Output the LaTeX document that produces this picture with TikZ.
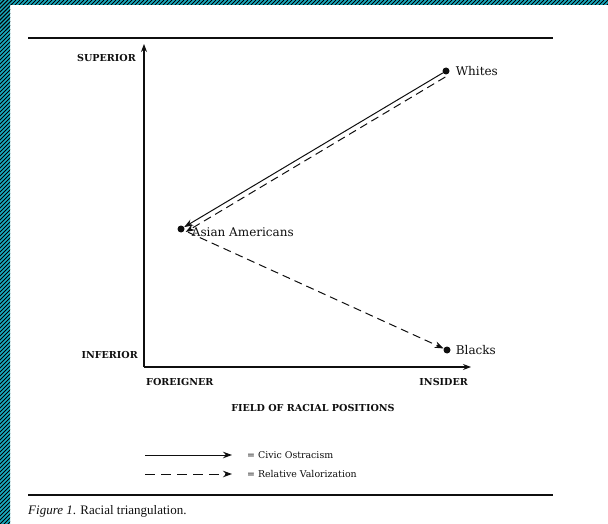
\documentclass[tikz,border=0pt]{standalone}
\usepackage{fontspec}
\setmainfont{Liberation Serif}
\newfontfamily\labelfont{DejaVu Serif}
\usepackage{tikz}
\usetikzlibrary{arrows.meta,patterns,positioning,calc}
\usepackage{xcolor}
\definecolor{hatchteal}{RGB}{25,170,190}
\definecolor{inkgrey}{RGB}{15,15,15}

\begin{document}
\begin{tikzpicture}[x=1pt, y=-1pt,
    every node/.style={text=inkgrey},
    axis/.style={inkgrey, line width=1.1pt, -{Stealth[length=8pt,width=6pt]}},
    civic/.style={inkgrey, line width=1pt, -{Stealth[length=9pt,width=6.5pt]}},
    valor/.style={inkgrey, line width=1pt, dash pattern=on 8pt off 5pt, -{Stealth[length=9pt,width=6.5pt]}},
    dot/.style={circle, fill=inkgrey, inner sep=0pt, minimum size=7pt},
    grouplbl/.style={font=\labelfont\fontsize{12}{14}\selectfont, inner sep=0pt},
    axislbl/.style={font=\labelfont\bfseries\fontsize{9.6}{11}\selectfont, inner sep=0pt},
    legendlbl/.style={font=\labelfont\fontsize{9.4}{11}\selectfont, inner sep=0pt, anchor=west}]
        \useasboundingbox (0,0) rectangle (608,524);
        \fill[white] (0,0) rectangle (608,524);

        % Hatched border (left and top)
        \begin{scope}
          \clip (0,0) rectangle (10,524) (0,0) rectangle (608,5);
          \fill[hatchteal] (0,0) rectangle (608,524);
          \foreach \s in {0,4,...,620}{
            \draw[black, line width=0.9pt] (\s,0) -- (\s-30,30);
          }
          \foreach \s in {0,4,...,540}{
            \draw[black, line width=0.9pt] (12,\s-12) -- (-12,\s+12);
          }
        \end{scope}

        % Rules
        \draw[inkgrey, line width=1.8pt] (28,38) -- (553,38);
        \draw[inkgrey, line width=1.8pt] (28,495) -- (553,495);

        % Axes
        \coordinate (origin) at (144,367);
        \coordinate (ytip) at (144,44);
        \coordinate (xtip) at (471,367);
        \draw[axis] (origin) -- (ytip);
        \draw[axis] (origin) -- (xtip);

        \node[axislbl, anchor=east] (superior) at (136,58) {SUPERIOR};
        \node[axislbl, anchor=east] (inferior) at (138,355) {INFERIOR};
        \node[axislbl, anchor=west] (foreigner) at (146,382) {FOREIGNER};
        \node[axislbl, anchor=east] (insider) at (468,382) {INSIDER};
        \node[axislbl] (field) at (313,408) {FIELD OF RACIAL POSITIONS};

        % Groups
        \node[dot] (whites) at (446,71) {};
        \node[dot] (asian) at (181,229) {};
        \node[dot] (blacks) at (447,350) {};
        \node[grouplbl, right=6pt of whites] {Whites};
        \node[grouplbl, right=7pt of asian, yshift=-3pt] {Asian Americans};
        \node[grouplbl, right=5pt of blacks] {Blacks};

        % Civic ostracism and relative valorization
        \draw[civic] (whites) -- (asian);
        \draw[valor, shorten <=2pt, shorten >=2pt] ($(whites)+(1,5)$) -- ($(asian)+(3,4)$);
        \draw[valor, shorten <=4pt] (asian) -- (blacks);

        % Legend
        \coordinate (civicA) at (145,455);
        \coordinate (civicB) at (232,455);
        \coordinate (valorA) at (145,474);
        \coordinate (valorB) at (232,474);
        \draw[civic] (civicA) -- (civicB);
        \draw[valor, dash pattern=on 10pt off 6pt] (valorA) -- (valorB);
        \node[legendlbl] (civictext) at (247,455) {= Civic Ostracism};
        \node[legendlbl] (valortext) at (247,474) {= Relative Valorization};

        % Caption
        \node[anchor=base west, inner sep=0pt, font=\fontsize{13}{15}\selectfont] (caption) at (28,514)
          {\textit{Figure 1}. Racial triangulation.};
      \end{tikzpicture}
\end{document}
